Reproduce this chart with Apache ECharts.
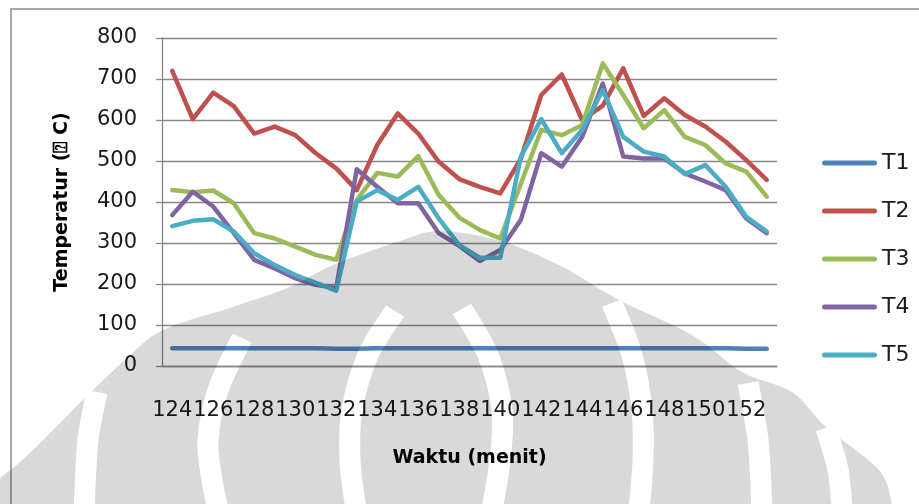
<!DOCTYPE html>
<html>
<head>
<meta charset="utf-8">
<script src="https://cdn.jsdelivr.net/npm/echarts@6/dist/echarts.min.js"></script>
<style>
  html, body { margin: 0; padding: 0; background: #fff; }
  #chart { width: 919px; height: 504px; }
</style>
</head>
<body>
<div id="chart"></div>
<script>
// Time axis (minutes) and the five thermocouple readings (°C)
const minutes = ['124','125','126','127','128','129','130','131','132','133','134','135','136','137','138','139','140','141','142','143','144','145','146','147','148','149','150','151','152','153'];
const seriesNames = ['T1', 'T2', 'T3', 'T4', 'T5'];
const t1 = [43, 43, 43, 43, 43, 43, 43, 43, 42, 42, 43, 43, 43, 43, 43, 43, 43, 43, 43, 43, 43, 43, 43, 43, 43, 43, 43, 43, 42, 42];
const t2 = [720, 602, 667, 634, 567, 584, 563, 519, 482, 429, 539, 616, 567, 498, 456, 437, 421, 505, 661, 711, 600, 635, 726, 610, 653, 612, 584, 547, 502, 454];
const t3 = [429, 424, 428, 397, 324, 311, 291, 271, 259, 405, 471, 462, 512, 417, 362, 332, 311, 444, 576, 563, 588, 738, 661, 580, 624, 559, 539, 494, 474, 413];
const t4 = [368, 425, 389, 324, 259, 238, 214, 198, 190, 480, 437, 397, 397, 324, 293, 256, 283, 356, 519, 486, 559, 689, 511, 506, 506, 470, 450, 429, 360, 324];
const t5 = [341, 354, 358, 328, 275, 246, 222, 203, 184, 401, 429, 405, 437, 360, 295, 264, 264, 510, 602, 519, 576, 673, 559, 523, 511, 468, 490, 437, 364, 328];
const palette = ['#4F81BD', '#C0504D', '#9BBB59', '#8064A2', '#4BACC6'];

// Faint logo stamp laid over the whole page: a grey dome with curved gaps.
function smoothPath(g, pts) {
  g.moveTo(pts[0][0], pts[0][1]);
  for (let i = 0; i < pts.length - 1; i++) {
    const p0 = pts[Math.max(0, i - 1)], p1 = pts[i], p2 = pts[i + 1], p3 = pts[Math.min(pts.length - 1, i + 2)];
    g.bezierCurveTo(
      p1[0] + (p2[0] - p0[0]) / 6, p1[1] + (p2[1] - p0[1]) / 6,
      p2[0] - (p3[0] - p1[0]) / 6, p2[1] - (p3[1] - p1[1]) / 6,
      p2[0], p2[1]);
  }
}
function buildStamp(w, h) {
  const c = document.createElement('canvas');
  c.width = w; c.height = h;
  const g = c.getContext('2d');
  const outline = [[0,478],[30,453],[85,398],[125,360],[163,330],[233,307],[290,287],[333,265],[400,241],[440,231],[500,241],[559,265],[619,300],[692,335],[742,372],[792,392],[826,427],[879,470],[892,504]];
  g.fillStyle = 'rgba(0,0,0,0.15)';
  g.beginPath();
  smoothPath(g, outline);
  g.lineTo(0, h);
  g.closePath();
  g.fill();
  g.globalCompositeOperation = 'destination-out';
  g.strokeStyle = '#000';
  g.lineCap = 'butt';
  const gaps = [
    [[97,392],[88,440],[84,510]],
    [[242,338],[218,390],[208,440],[212,480],[218,510]],
    [[395,311],[368,355],[352,410],[350,460],[356,510]],
    [[462,309],[488,355],[502,410],[500,460],[492,510]],
    [[612,303],[632,355],[642,410],[643,460],[639,510]],
    [[748,383],[758,440],[762,510]],
    [[826,428],[838,470],[842,510]]
  ];
  g.lineWidth = 21;
  gaps.forEach(p => { g.beginPath(); smoothPath(g, p); g.stroke(); });
  return c;
}

const chart = echarts.init(document.getElementById('chart'), null, { renderer: 'canvas' });
const values = [t1, t2, t3, t4, t5];
const axisFont = 'DejaVu Sans';

chart.setOption({
  animation: false,
  backgroundColor: '#fff',
  grid: { left: 162, top: 38, width: 615, height: 328, containLabel: false },
  legend: {
    orient: 'vertical',
    left: 817,
    top: 147,
    itemWidth: 55,
    itemHeight: 5,
    itemGap: 26,
    icon: 'path://M2.5,0 H52.5 A2.5,2.5 0 0 1 52.5,5 H2.5 A2.5,2.5 0 0 1 2.5,0 Z',
    textStyle: { fontFamily: axisFont, fontSize: 22, color: '#1a1a1a', lineHeight: 22 },
    data: seriesNames
  },
  xAxis: {
    type: 'category',
    data: minutes,
    boundaryGap: true,
    name: 'Waktu (menit)',
    nameLocation: 'middle',
    nameGap: 83,
    nameTextStyle: { fontFamily: axisFont, fontWeight: 'bold', fontSize: 19, color: '#000' },
    axisLine: { lineStyle: { color: '#868686', width: 1.3 } },
    axisTick: { show: false },
    axisLabel: { interval: 1, margin: 34, fontFamily: axisFont, fontSize: 21, color: '#1a1a1a' }
  },
  yAxis: {
    type: 'value',
    min: 0,
    max: 800,
    interval: 100,
    name: 'Temperatur (\u2370 C)',
    nameLocation: 'middle',
    nameGap: 90,
    nameTextStyle: { fontFamily: axisFont, fontWeight: 'bold', fontSize: 19, color: '#000' },
    axisLine: { show: true, lineStyle: { color: '#868686', width: 1.3 } },
    axisTick: { show: true, length: 6, lineStyle: { color: '#868686', width: 1.3 } },
    axisLabel: { margin: 25, fontFamily: axisFont, fontSize: 21, color: '#1a1a1a' },
    splitLine: { lineStyle: { color: '#868686', width: 1.3 } }
  },
  series: seriesNames.map((n, i) => ({
    name: n,
    type: 'line',
    data: values[i],
    symbol: 'none',
    color: palette[i],
    lineStyle: { width: 4.5, color: palette[i], cap: 'round', join: 'round' },
    z: 2 + i
  })),
  graphic: [
    {
      type: 'rect',
      silent: true,
      z: 0,
      shape: { x: 11, y: 9, width: 930, height: 520 },
      style: { fill: 'none', stroke: '#8a8a8a', lineWidth: 1.5 }
    },
    {
      type: 'image',
      silent: true,
      z: 100,
      left: 0,
      top: 0,
      style: { image: buildStamp(919, 504), x: 0, y: 0, width: 919, height: 504 }
    }
  ]
});
</script>
</body>
</html>
